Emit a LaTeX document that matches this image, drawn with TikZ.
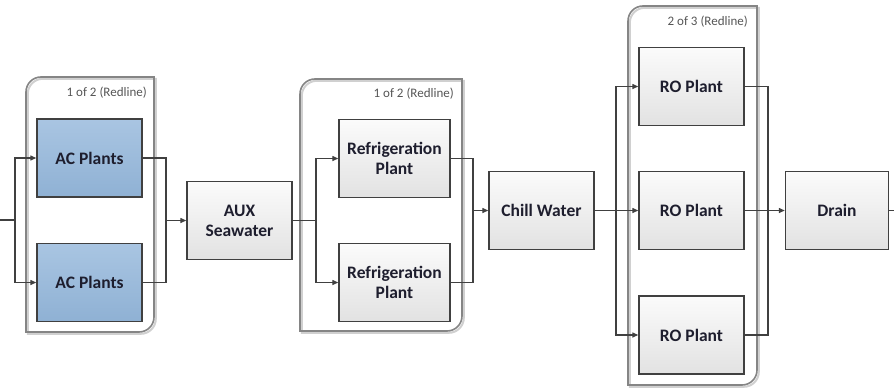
\documentclass[tikz,border=0pt]{standalone}
\usepackage{fontspec}
\setmainfont{Carlito}
\usetikzlibrary{arrows.meta,calc}

\definecolor{edgegray}{HTML}{404040}
\definecolor{groupgray}{HTML}{858585}
\definecolor{groupshade}{HTML}{D0D0D0}
\definecolor{labelgray}{HTML}{555555}
\definecolor{textdark}{HTML}{1E1E2E}
\definecolor{blueTop}{HTML}{A9C5E2}
\definecolor{blueBot}{HTML}{8FB1D4}
\definecolor{greyTop}{HTML}{FBFBFB}
\definecolor{greyBot}{HTML}{E2E2E2}

\tikzset{
  unit/.style={draw=edgegray, line width=1.4pt, top color=greyTop, bottom color=greyBot,
    minimum width=105pt, minimum height=78pt, align=center, inner sep=2pt,
    font=\fontsize{17.5}{20}\selectfont\bfseries, text=textdark},
  acunit/.style={unit, top color=blueTop, bottom color=blueBot},
  wideunit/.style={unit, minimum width=111pt},
  flow/.style={draw=edgegray, line width=1.3pt},
  feed/.style={flow, -{Triangle[length=6pt,width=5pt]}},
  groupline/.style={draw=groupgray, line width=1.6pt},
  groupshadow/.style={draw=groupshade, line width=2pt},
  grouplabel/.style={anchor=east, text=labelgray, font=\fontsize{13}{15}\selectfont, inner sep=0pt},
}

% redundancy group outline: rounded top-left and bottom-right corners
\newcommand{\groupbox}[4]{%
  \draw[groupshadow] ($(#1,#4)+(1.8,1.8)$) [rounded corners=15pt] -- ($(#1,#2)+(1.8,1.8)$) [sharp corners]
    -- ($(#3,#2)+(1.8,1.8)$) [rounded corners=15pt] -- ($(#3,#4)+(1.8,1.8)$) [sharp corners] -- cycle;
  \draw[groupline] (#1,#4) [rounded corners=15pt] -- (#1,#2) [sharp corners]
    -- (#3,#2) [rounded corners=15pt] -- (#3,#4) [sharp corners] -- cycle;
}

\begin{document}
\begin{tikzpicture}[x=1pt,y=-1pt]
\useasboundingbox (0,0) rectangle (894,388);

% group outlines and their voting labels
\groupbox{26}{77}{154}{332}
\groupbox{300}{79}{462}{331}
\groupbox{628}{6}{757}{385}
\node[grouplabel] (g1lbl) at (147,93) {1 of 2 (Redline)};
\node[grouplabel] (g2lbl) at (454,94) {1 of 2 (Redline)};
\node[grouplabel] (g3lbl) at (748,22) {2 of 3 (Redline)};

% plant blocks
\node[acunit] (ac1) at (89.5,158) {AC Plants};
\node[acunit] (ac2) at (89.5,282.5) {AC Plants};
\node[unit] (aux) at (239.5,220.5) {AUX\\Seawater};
\node[wideunit] (rf1) at (394.5,158.5) {Refrigeration\\Plant};
\node[wideunit] (rf2) at (394.5,282.5) {Refrigeration\\Plant};
\node[unit] (chill) at (541.5,210.5) {Chill Water};
\node[unit] (ro1) at (691.5,86.5) {RO Plant};
\node[unit] (ro2) at (691.5,210.5) {RO Plant};
\node[unit] (ro3) at (691.5,335) {RO Plant};
\node[unit, minimum width=103pt] (drain) at (837,210.5) {Drain};

% junction points
\coordinate (src) at (0,220);
\coordinate (j1) at (15,220);
\coordinate (j2) at (166,220.5);
\coordinate (j3) at (316,220.5);
\coordinate (j4) at (473,210.5);
\coordinate (j5) at (616,210.5);
\coordinate (j6) at (768,210.5);
\coordinate (sink) at (894,210.5);

% AC stage
\draw[flow] (src) -- (j1);
\draw[feed] (j1) |- (ac1.west);
\draw[feed] (j1) |- (ac2.west);
\draw[flow] (ac1.east) -| (j2);
\draw[flow] (ac2.east) -| (j2);
\draw[feed] (j2) -- (aux.west);

% refrigeration stage
\draw[flow] (aux.east) -- (j3);
\draw[feed] (j3) |- (rf1.west);
\draw[feed] (j3) |- (rf2.west);
\draw[flow] (rf1.east) -| (j4);
\draw[flow] (rf2.east) -| (j4);
\draw[feed] (j4) -- (chill.west);

% RO stage
\draw[flow] (chill.east) -- (j5);
\draw[feed] (j5) |- (ro1.west);
\draw[feed] (j5) -- (ro2.west);
\draw[feed] (j5) |- (ro3.west);
\draw[flow] (ro1.east) -| (j6);
\draw[flow] (ro2.east) -- (j6);
\draw[flow] (ro3.east) -| (j6);
\draw[feed] (j6) -- (drain.west);
\draw[flow] (drain.east) -- (sink);
\end{tikzpicture}
\end{document}
